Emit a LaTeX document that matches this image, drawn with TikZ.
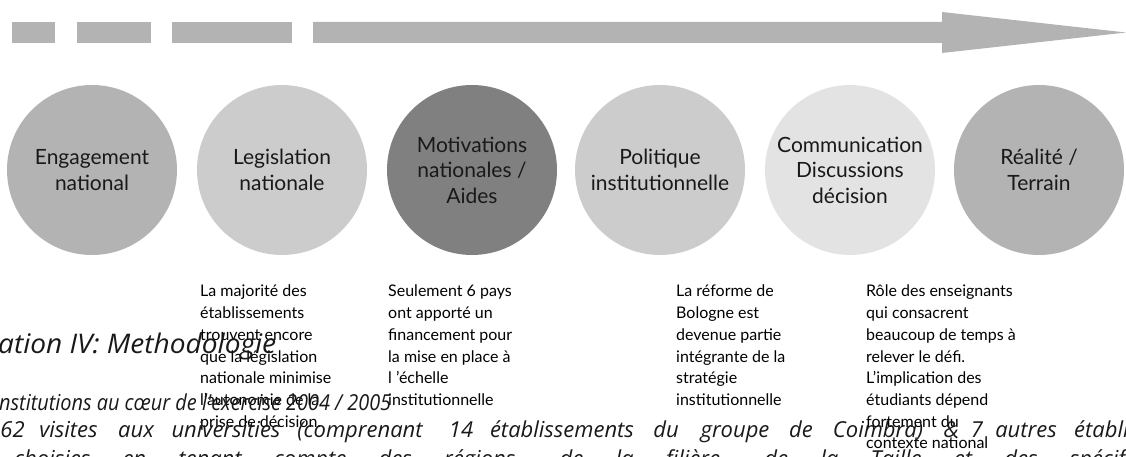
\documentclass[tikz,border=0pt]{standalone}
\usepackage{fontspec}
\setmainfont{Lato}
\newfontfamily\ovfont{Open Sans}
\definecolor{arrowgray}{HTML}{B3B3B3}
\definecolor{cmid}{HTML}{B3B3B3}
\definecolor{clight}{HTML}{CCCCCC}
\definecolor{cdark}{HTML}{808080}
\definecolor{cpale}{HTML}{E3E3E3}
\newcommand\fitw[2]{\setbox0=\hbox{#2}\pgfmathsetmacro\fitsx{#1/\the\wd0}\scalebox{\fitsx}[1]{\box0}}
\tikzset{
  bubble/.style={circle, minimum size=170pt, inner sep=0pt, draw=none, fill=#1,
    align=center, font=\fontsize{21}{25.5}\selectfont, text=black!90},
  desc/.style={anchor=north west, align=left, inner sep=0pt,
    font=\fontsize{16}{21.7}\selectfont, text=black},
  overlay/.style={anchor=base west, inner sep=0pt, text=black!90},
  wordA/.style={anchor=base, inner sep=0pt, text=black!90, font=\ovfont\fontsize{22}{26}\selectfont\itshape}
}
\begin{document}
\begin{tikzpicture}[x=1pt,y=-1pt]
\useasboundingbox (0,0) rectangle (1126,457);
\clip (0,0) rectangle (1126,457);
% timeline arrow
\fill[arrowgray] (12,22) rectangle (55,43);
\fill[arrowgray] (77,22) rectangle (151,43);
\fill[arrowgray] (172,22) rectangle (292,43);
\fill[arrowgray] (313,22) -- (942,22) -- (942,12) -- (1126,32.5) -- (942,53) -- (942,43) -- (313,43) -- cycle;
% circles
\node[bubble=cmid]   (c1) at (92,170)  {Engagement\\national};
\node[bubble=clight] (c2) at (282,170) {Legislation\\nationale};
\node[bubble=cdark]  (c3) at (472,170) {Motivations\\nationales /\\Aides};
\node[bubble=clight] (c4) at (660,170) {Politique\\institutionnelle};
\node[bubble=cpale]  (c5) at (850,170) {Communication\\Discussions\\décision};
\node[bubble=cmid]   (c6) at (1039,170) {Réalité /\\Terrain};
% descriptions
\node[desc] (d2) at (200,285) {La majorité des\\établissements\\trouvent encore\\que la législation\\nationale minimise\\l'autonomie de la\\prise de décision.};
\node[desc] (d3) at (388,285) {Seulement 6 pays\\ont apporté un\\financement pour\\la mise en place à\\l 'échelle\\institutionnelle};
\node[desc] (d4) at (676,285) {La réforme de\\Bologne est\\devenue partie\\intégrante de la\\stratégie\\institutionnelle};
\node[desc] (d5) at (866,285) {Rôle des enseignants\\qui consacrent\\beaucoup de temps à\\relever le défi.\\L’implication des\\étudiants dépend\\fortement du\\contexte national};
% overlapping italic text
\node[overlay, font=\ovfont\fontsize{27}{30}\selectfont\itshape] (t1) at (-2,353) {\fitw{278}{ation IV: Methodologie}};
\node[overlay, font=\ovfont\fontsize{22}{24}\selectfont\itshape] (t2) at (-1,410) {\fitw{392}{nstitutions au cœur de l'exercise 2004 / 2005}};
\node[wordA] (w1)  at (12.5,437)  {62};
\node[wordA] (w2)  at (68.5,437)  {visites};
\node[wordA] (w3)  at (136,437)   {aux};
\node[wordA] (w4)  at (226,437)   {universities};
\node[wordA] (w5)  at (360,437)   {(comprenant};
\node[wordA] (w6)  at (461,437)   {14};
\node[wordA] (w7)  at (562,437)   {établissements};
\node[wordA] (w8)  at (666,437)   {du};
\node[wordA] (w9)  at (735,437)   {groupe};
\node[wordA] (w10) at (801,437)   {de};
\node[wordA] (w11) at (878,437)   {Coimbra)};
\node[wordA] (w12) at (951,437)   {\&};
\node[wordA] (w13) at (977,437)   {7};
\node[wordA] (w14) at (1026,437)  {autres};
\node[wordA, anchor=base west] (w15) at (1074,437) {établissements};
\node[overlay, font=\ovfont\fontsize{22}{26}\selectfont\itshape] (t4) at (14,466) {\makebox[1160pt][s]{choisies en tenant compte des régions, de la filière, de la Taille et des spécificités}};
\end{tikzpicture}
\end{document}
